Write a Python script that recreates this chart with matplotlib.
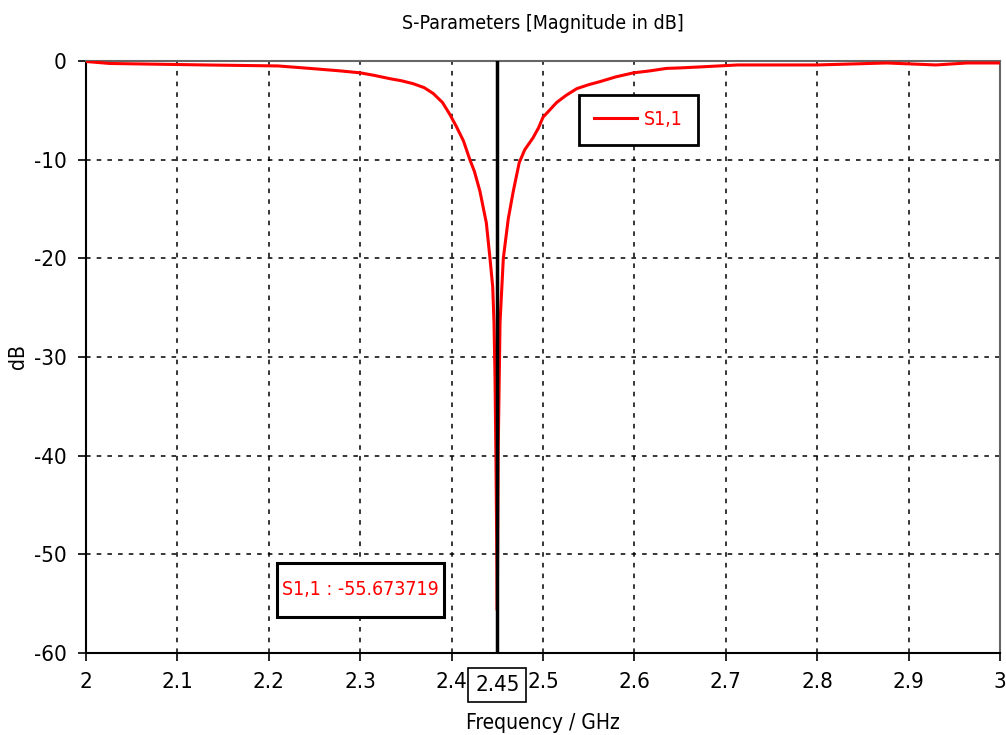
import numpy as np
import matplotlib
matplotlib.use("Agg")
import matplotlib.pyplot as plt
from matplotlib.patches import Rectangle

plt.rcParams["font.family"] = ["DejaVu Sans"]
plt.rcParams["font.stretch"] = "condensed"
plt.rcParams["axes.unicode_minus"] = False

# S11 magnitude (GHz, dB)
freq = [2.000, 2.026, 2.130, 2.210, 2.245, 2.278, 2.300, 2.315, 2.333, 2.345,
        2.358, 2.370, 2.380, 2.390, 2.398, 2.405, 2.413, 2.420, 2.425, 2.431,
        2.438, 2.442, 2.445, 2.4464, 2.4475, 2.4485, 2.450, 2.451, 2.452, 2.453,
        2.4566, 2.462, 2.4675, 2.474, 2.480, 2.489, 2.495, 2.500, 2.507, 2.515,
        2.525, 2.537, 2.550, 2.562, 2.580, 2.599, 2.617, 2.635, 2.650, 2.672,
        2.713, 2.800, 2.876, 2.930, 2.964, 3.000]
s11_db = [-0.05, -0.25, -0.4, -0.5, -0.75, -1.0, -1.2, -1.45, -1.8, -2.0,
          -2.3, -2.7, -3.3, -4.2, -5.4, -6.6, -8.1, -10.0, -11.2, -13.2,
          -16.4, -20.0, -22.9, -26.5, -32.0, -40.0, -55.673719, -39.5, -33.0, -26.5,
          -20.0, -16.0, -13.2, -10.3, -9.0, -7.8, -6.8, -5.7, -5.0, -4.2,
          -3.5, -2.8, -2.4, -2.1, -1.6, -1.2, -1.0, -0.75, -0.7, -0.6,
          -0.4, -0.4, -0.2, -0.4, -0.2, -0.2]

marker_f = 2.45
marker_db = -55.673719
x_ticks = [2.0, 2.1, 2.2, 2.3, 2.4, 2.5, 2.6, 2.7, 2.8, 2.9, 3.0]
x_tick_labels = ["2", "2.1", "2.2", "2.3", "2.4", "2.5", "2.6", "2.7", "2.8", "2.9", "3"]
y_ticks = [0, -10, -20, -30, -40, -50, -60]

fig = plt.figure(figsize=(10.06, 7.35), dpi=100)
ax = fig.add_axes([0.0855, 0.1116, 0.9085, 0.8054])

ax.plot(freq, s11_db, color="#ff0000", linewidth=2.2, label="S1,1", zorder=3)
ax.axvline(marker_f, color="black", linewidth=2.5, zorder=4)

ax.set_xlim(2, 3)
ax.set_ylim(-60, 0)
ax.set_xticks(x_ticks)
ax.set_xticklabels(x_tick_labels)
ax.set_yticks(y_ticks)
ax.tick_params(direction="out", length=6, width=1.2, labelsize=16, pad=8)

ax.grid(True, color="black", linestyle=(0, (3, 4)), linewidth=1.1)

for side in ["left", "bottom"]:
    ax.spines[side].set_linewidth(1.5)
for side in ["top", "right"]:
    ax.spines[side].set_color("#666666")
    ax.spines[side].set_linewidth(1.5)

ax.set_title("S-Parameters [Magnitude in dB]", fontsize=14, pad=23)
ax.set_ylabel("dB", fontsize=15)
ax.yaxis.set_label_coords(-0.064, 0.5)
ax.text(0.5, -0.118, "Frequency / GHz", transform=ax.transAxes,
        fontsize=15, ha="center", va="center")

# boxed marker frequency on the x axis
ax.text(marker_f, -0.054, "2.45", transform=ax.get_xaxis_transform(),
        fontsize=16, ha="center", va="center", clip_on=False,
        bbox=dict(boxstyle="square,pad=0.3", facecolor="white",
                  edgecolor="black", linewidth=1.2))

# marker readout
ax.add_patch(Rectangle((2.209, -56.33), 0.1827, 5.47, facecolor="white",
                       edgecolor="black", linewidth=2.2, zorder=5))
ax.text(2.3004, -53.6, f"S1,1 : {marker_db:.6f}", color="#ff0000",
        fontsize=14, ha="center", va="center", zorder=6)

leg = ax.legend(loc="upper left", bbox_to_anchor=(0.539, 0.943), fontsize=14,
                fancybox=False, framealpha=1, edgecolor="black",
                handlelength=2.2, handletextpad=0.35, borderpad=0.8,
                borderaxespad=0)
leg.get_frame().set_linewidth(2)
for t in leg.get_texts():
    t.set_color("#ff0000")

fig.savefig("out.png", dpi=100)
